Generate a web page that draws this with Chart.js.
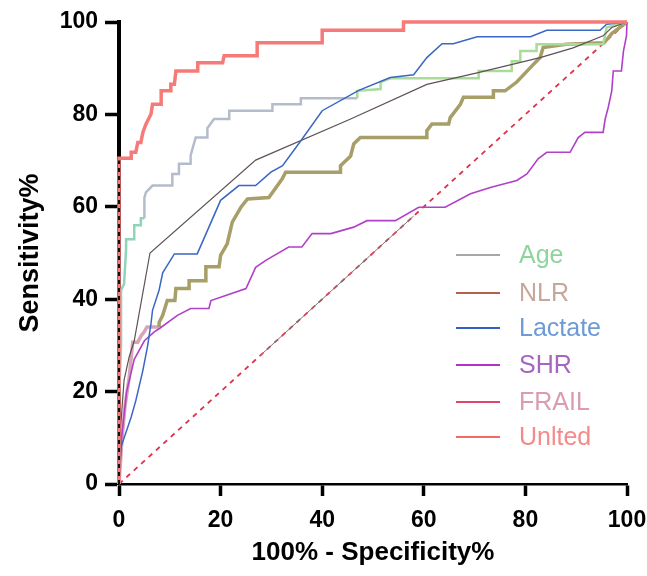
<!DOCTYPE html>
<html>
<head>
<meta charset="utf-8">
<script src="https://cdn.jsdelivr.net/npm/chart.js@4"></script>
<style>
  html, body { margin: 0; padding: 0; background: #fff; }
  #wrap { width: 647px; height: 576px; position: relative; }
</style>
</head>
<body>
<div id="wrap"><canvas id="roc"></canvas></div>
<script>
// ROC curves: [100% - specificity, sensitivity] pairs
const axisTicks = [0, 20, 40, 60, 80, 100];

const united = [
  [0, 0], [0, 70.5], [2.4, 70.5], [2.4, 71.8], [3.3, 71.8], [3.7, 73.9], [4.3, 73.9],
  [4.7, 76.1], [5.3, 77.9], [6.3, 80.1], [6.6, 82.2], [8.3, 82.2], [8.3, 85.1],
  [10.2, 85.1], [10.2, 86.5], [10.9, 86.5], [11.2, 89.4], [15.5, 89.4], [15.5, 91.2],
  [20.4, 91.2], [20.7, 92.7], [27.2, 92.7], [27.2, 95.5], [40, 95.5], [40, 98.2],
  [56, 98.2], [56, 100], [100, 100],
];

const age = [
  [0, 0], [0, 18], [0.4, 30], [0.4, 42], [1, 43.3], [1.4, 51], [1.4, 53], [3, 53],
  [3, 56], [4.3, 56], [4.3, 57.5], [5, 57.5], [5, 62], [5.3, 63.1], [6.6, 64.6],
  [10.5, 64.6], [10.5, 67.1], [11.8, 67.1], [11.8, 69.3], [14.1, 69.3], [14.1, 71.1],
  [15.1, 75], [17.4, 75], [17.4, 77], [18.7, 79], [21.7, 79], [21.7, 80.8], [30.2, 80.8],
  [30.2, 82.2], [35.8, 82.2], [35.8, 83.5], [46.9, 83.5], [46.9, 85.1], [51.5, 85.5],
  [51.5, 87], [53.4, 87.8], [70.8, 87.8], [70.8, 89.4], [77.3, 89.4], [77.3, 91.5],
  [79, 91.5], [79, 93.7], [82.2, 93.7], [82.2, 95.2], [95.3, 95.2], [96, 98.8], [100, 100],
];

const nlr = [
  [0, 0], [0.3, 12], [1, 22.5], [2, 27.5], [3, 31], [6.1, 50], [26.9, 70.1], [45.6, 79],
  [60.6, 86.5], [70.5, 89], [82.9, 92.3], [89.4, 94.4], [95.3, 97], [97, 98.8], [100, 100],
];

const lactate = [
  [0, 0], [0.4, 8], [2.4, 14.5], [3.3, 18], [4.7, 24.6], [5.6, 29.7], [6.3, 34.7],
  [6.6, 37.6], [7.9, 42], [8.6, 45.7], [10.9, 49.8], [15.4, 49.8], [20, 61.4],
  [23.6, 64.6], [26.9, 64.6], [29.9, 67.5], [32.2, 68.9], [35.8, 74.3], [40, 80.8],
  [47.2, 85.2], [53.4, 88], [58, 88.6], [60.6, 92.3], [63.6, 95.3], [65.8, 95.3],
  [70.5, 96.8], [81, 96.8], [84.2, 98.2], [94.7, 98.2], [96, 99.5], [100, 100],
];

const shr = [
  [0, 0], [0.5, 10], [1.5, 20], [3, 27], [5, 31], [7, 33], [7.9, 33.6], [11.5, 36.5],
  [14.1, 38], [17.7, 38], [18.1, 39.7], [25, 42.3], [26.9, 46.9], [28.9, 48.4],
  [33.4, 51.3], [36, 51.3], [38, 54.2], [41.7, 54.2], [46.2, 55.6], [48.8, 57],
  [54.4, 57], [59, 59.9], [64.2, 59.9], [69.2, 62.8], [73.1, 64.2], [78.3, 65.7],
  [80.3, 67.1], [82.5, 70.4], [84.2, 71.8], [88.8, 71.8], [90.4, 75], [91.7, 76.1],
  [95.3, 76.1], [95.7, 79], [96.3, 81.5], [97, 85.1], [97.3, 89.4], [98.9, 89.4],
  [99.3, 93.7], [99.9, 97], [100, 100],
];

const frail = [
  [0, 0], [0.6, 10], [1.2, 17], [2, 23], [2.7, 30.7], [3.7, 30.7], [4.3, 32], [5, 33],
  [5.5, 34], [7.9, 34], [7.9, 35], [8.6, 36.5], [9.5, 39.7], [11, 39.7], [11.2, 42.3],
  [13.8, 42.3], [13.8, 44], [17, 44], [17.1, 47], [19.7, 47], [20, 49.5], [21.3, 52],
  [22.3, 56.7], [24, 59.9], [25.3, 61.7], [29.5, 62], [32.1, 66], [32.8, 67.5],
  [43.6, 67.5], [43.6, 68.9], [45.6, 71], [46.2, 73.6], [47.5, 75], [60.6, 75],
  [60.6, 76.5], [61.6, 77.9], [64.9, 77.9], [65.2, 79.3], [67.2, 82.2], [67.8, 83.7],
  [73.7, 83.7], [73.7, 85.1], [76, 85.1], [78.3, 87], [81.3, 90.5], [82.9, 92.3],
  [83.5, 94.5], [88, 95.2], [95.5, 95.5], [97, 97.5], [100, 100],
];

const chance = [[0, 0], [100, 100]];
const chanceMid = [[28, 28], [58, 58]];
const zeroEdge = [[0, 0], [0, 70]];

const legendNames = ["Age", "NLR", "Lactate", "SHR", "FRAIL", "Unlted"];
const legendLineColors = ["#8a8a8a", "#b3604f", "#2f62c4", "#b432c8", "#e2456a", "#f26a66"];
const legendTextColors = ["#8fd49b", "#c6a79d", "#6c9bd8", "#a566c0", "#d99cb0", "#f48a8a"];

const FONT = "'Liberation Sans', Arial, Helvetica, sans-serif";

function pts(pairs) {
  return pairs.map(([x, y]) => ({ x, y }));
}

function line(data, color, width, extra = {}) {
  return {
    data: pts(data),
    showLine: true,
    borderColor: color,
    backgroundColor: color,
    borderWidth: width,
    pointRadius: 0,
    pointHoverRadius: 0,
    tension: 0,
    fill: false,
    clip: false,
    borderJoinStyle: "miter",
    ...extra,
  };
}

/** Legend drawn inside the plot, lines and coloured names as in the figure. */
const insideLegend = {
  id: "insideLegend",
  afterDraw(chart) {
    const ctx = chart.ctx;
    const rowsY = [255, 293, 328, 365, 402, 437];
    ctx.save();
    ctx.font = "25px " + FONT;
    ctx.textBaseline = "middle";
    legendNames.forEach((name, i) => {
      const y = rowsY[i];
      ctx.strokeStyle = legendLineColors[i];
      ctx.lineWidth = i === 0 ? 1.5 : 2;
      ctx.beginPath();
      ctx.moveTo(456, y);
      ctx.lineTo(500, y);
      ctx.stroke();
      ctx.fillStyle = legendTextColors[i];
      ctx.fillText(name, 519, y + 1);
    });
    ctx.restore();
  },
};

const byX = (lo, hi, a, b, c) => (ctx) => {
  const x = ctx.p0.parsed.x;
  return x < lo ? a : x < hi ? b : c;
};

new Chart(document.getElementById("roc"), {
  type: "scatter",
  data: {
    datasets: [
      line(zeroEdge, "#111", 2, { borderDash: [4, 4], order: -1 }),
      line(united, "#f57a78", 3.5),
      line(lactate, "#3a66c4", 1.5),
      line(nlr, "#5e5254", 1.2),
      line(age, "#b4bccc", 2.5, {
        segment: { borderColor: byX(5, 46, "#8fd3b8", "#b4bccc", "#a8dc98") },
      }),
      line(shr, "#b040c8", 1.6),
      line(frail, "#a89e68", 3.5, {
        segment: { borderColor: byX(7.5, 200, "#d6a6b6", "#a89e68", "#a89e68") },
      }),
      line(chanceMid, "#777", 1),
      line(chance, "#e0304a", 1.8, { borderDash: [5, 5] }),
    ],
  },
  options: {
    responsive: true,
    maintainAspectRatio: false,
    animation: false,
    layout: { padding: { top: 22, right: 20, left: 0, bottom: 0 } },
    plugins: { legend: { display: false }, tooltip: { enabled: false } },
    scales: {
      x: {
        type: "linear",
        min: 0,
        max: 100,
        afterBuildTicks(scale) {
          scale.ticks = axisTicks.map((v) => ({ value: v }));
        },
        afterFit(scale) {
          scale.height = 92;
          scale.paddingRight = 0;
          scale.paddingLeft = 0;
        },
        ticks: {
          color: "#000",
          padding: 11,
          font: { family: FONT, size: 23, weight: "bold" },
          maxRotation: 0,
        },
        grid: {
          drawOnChartArea: false,
          drawTicks: true,
          tickLength: 12,
          tickWidth: 3.5,
          tickColor: "#000",
        },
        border: { display: true, color: "#000", width: 2.5 },
        title: {
          display: true,
          text: "100% - Specificity%",
          color: "#000",
          font: { family: FONT, size: 26, weight: "bold" },
          padding: { top: 0, bottom: 8 },
        },
      },
      y: {
        type: "linear",
        min: 0,
        max: 100,
        afterBuildTicks(scale) {
          scale.ticks = axisTicks.map((v) => ({ value: v }));
        },
        afterFit(scale) {
          scale.width = 119;
          scale.paddingTop = 0;
          scale.paddingBottom = 0;
        },
        ticks: {
          color: "#000",
          padding: 7,
          font: { family: FONT, size: 23, weight: "bold" },
        },
        grid: {
          drawOnChartArea: false,
          drawTicks: true,
          tickLength: 14,
          tickWidth: 3.5,
          tickColor: "#000",
        },
        border: { display: true, color: "#000", width: 4 },
        title: {
          display: true,
          text: "Sensitivity%",
          color: "#000",
          font: { family: FONT, size: 27, weight: "bold" },
          padding: { top: 14, bottom: 0 },
        },
      },
    },
  },
  plugins: [insideLegend],
});
</script>
</body>
</html>
